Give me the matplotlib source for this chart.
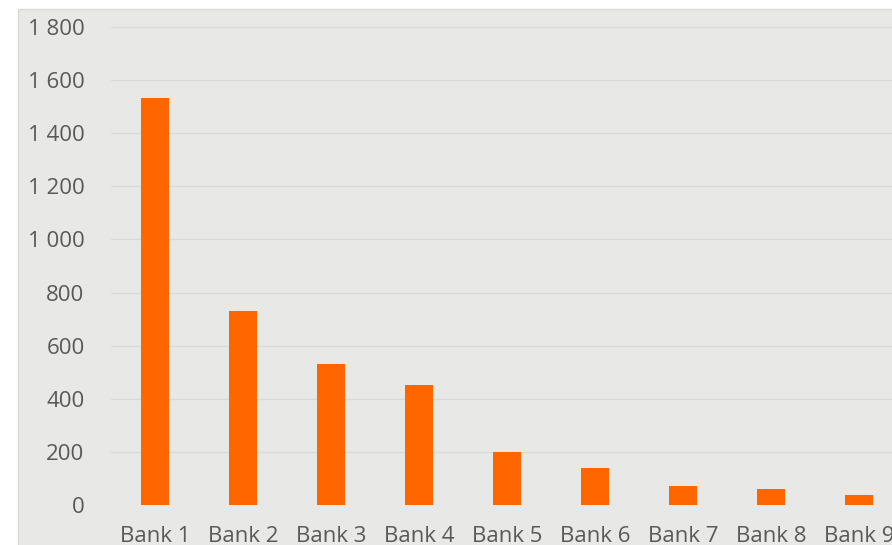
import matplotlib.pyplot as plt
from matplotlib.patches import Rectangle
from matplotlib.ticker import FuncFormatter

banks = ['Bank 1', 'Bank 2', 'Bank 3', 'Bank 4', 'Bank 5', 'Bank 6', 'Bank 7', 'Bank 8', 'Bank 9']
values = [1532, 730, 531, 452, 200, 138, 72, 59, 38]
y_ticks = [0, 200, 400, 600, 800, 1000, 1200, 1400, 1600, 1800]

W, H = 892, 545
fig = plt.figure(figsize=(W / 100, H / 100), dpi=100)
fig.patch.set_facecolor('white')

# chart area frame (cropped on right and bottom)
fig.patches.append(Rectangle((18 / W, -0.1), 1.2, (H - 9) / H + 0.1,
                             transform=fig.transFigure, facecolor='#e8e8e7',
                             edgecolor='#d9d9d9', linewidth=1, zorder=-5))

ax = fig.add_axes([111 / W, (H - 505) / H, (903 - 111) / W, (505 - 27) / H])
ax.set_facecolor('none')

ax.bar(range(len(banks)), values, width=0.318, color='#ff6600', zorder=3)

ax.set_xlim(-0.5, len(banks) - 0.5)
ax.set_ylim(0, 1800)
ax.set_yticks(y_ticks)
ax.yaxis.set_major_formatter(FuncFormatter(lambda v, p: f'{int(v):,}'.replace(',', ' ')))
ax.set_xticks(range(len(banks)))
ax.set_xticklabels(banks)

ax.grid(axis='y', color='#d9d9d9', linewidth=1, zorder=0)
for s in ax.spines.values():
    s.set_visible(False)
ax.tick_params(axis='both', length=0, labelsize=16, labelcolor='#595959')
ax.tick_params(axis='y', pad=19)
ax.tick_params(axis='x', pad=15)
for lbl in ax.get_xticklabels() + ax.get_yticklabels():
    lbl.set_family('Open Sans')

fig.savefig('out.png', dpi=100)
